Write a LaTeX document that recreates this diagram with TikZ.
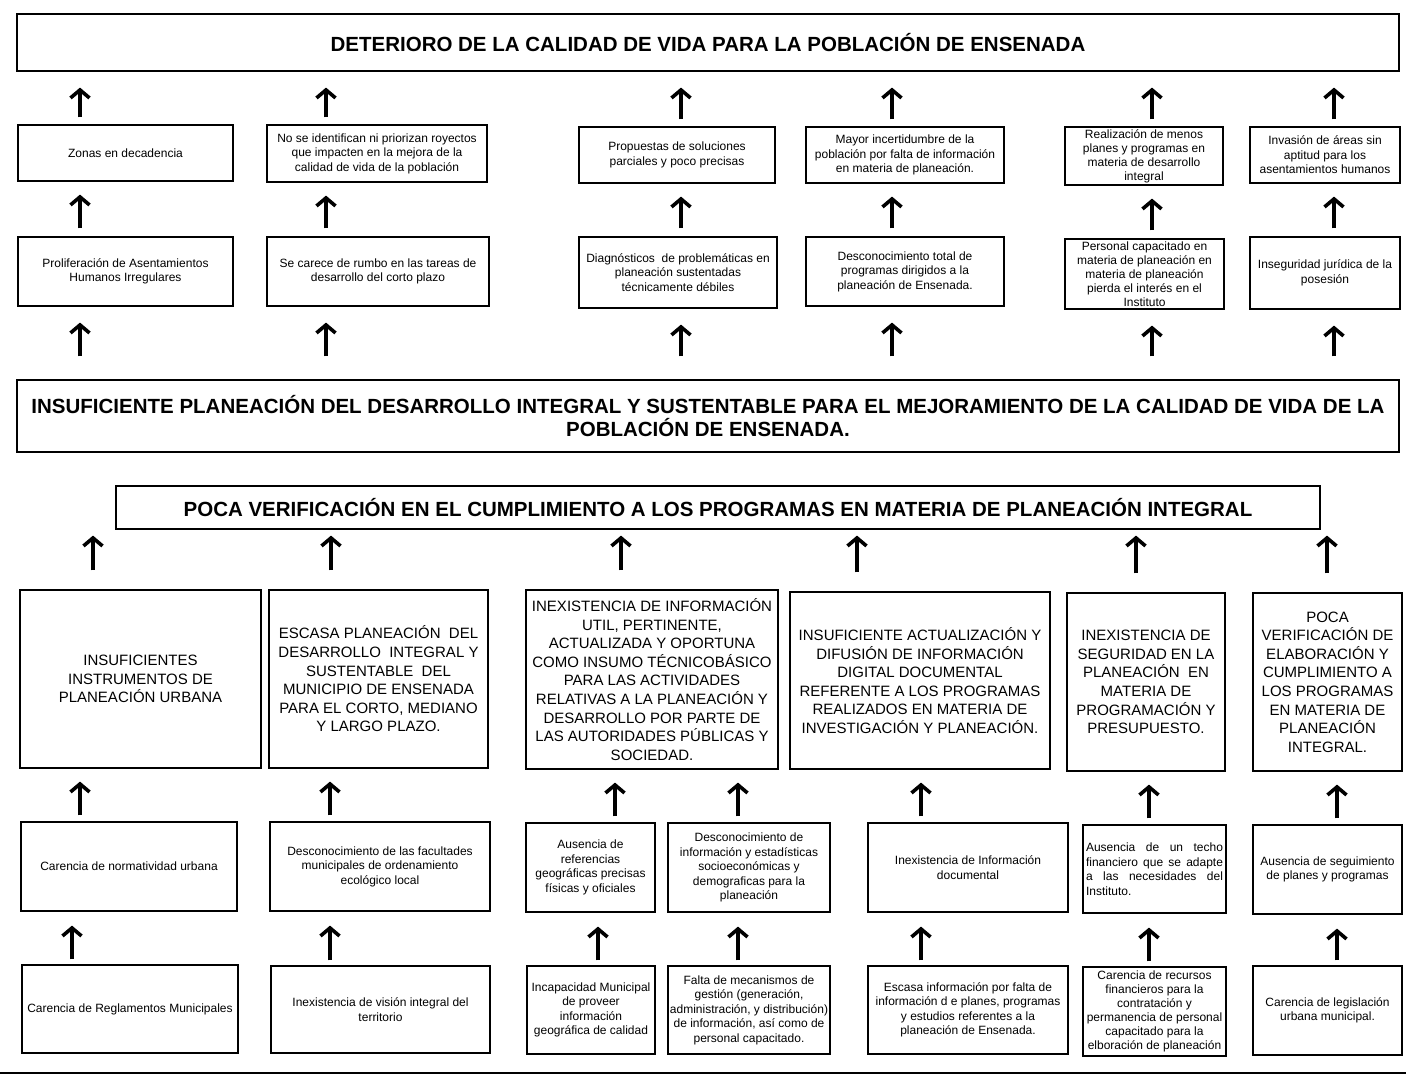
\documentclass[tikz,border=0pt]{standalone}
\usepackage{fontspec}
\setmainfont{Liberation Sans}
\usetikzlibrary{arrows.meta}
\newcommand\fsm{\fontsize{12}{14.5}\selectfont}
\newcommand\fsx{\fontsize{12}{14}\selectfont}
\newcommand\fbg{\fontsize{15}{18.6}\selectfont}
\newcommand\fhd{\fontsize{20.5}{23}\selectfont\bfseries}
\begin{document}
\begin{tikzpicture}[x=1pt,y=-1pt,
  bx/.style={draw, line width=1.2pt, inner sep=1pt, align=center, font=\fsm},
  bxs/.style={bx, font=\fsx},
  big/.style={bx, font=\fbg},
  hd/.style={bx, font=\fhd},
  arr/.style={line width=3.6pt, -{Straight Barb[length=8pt,width=19pt]}}]
\useasboundingbox (0,0) rectangle (1406,1078);
% titles
\node[hd, minimum width=1382pt, minimum height=57pt] (T) at (708,42.5) {DETERIORO DE LA CALIDAD DE VIDA PARA LA POBLACIÓN DE ENSENADA};
\node[hd, minimum width=1382pt, minimum height=72pt] (M) at (708,416) {INSUFICIENTE PLANEACIÓN DEL DESARROLLO INTEGRAL Y SUSTENTABLE PARA EL MEJORAMIENTO DE LA CALIDAD DE VIDA DE LA\\POBLACIÓN DE ENSENADA.};
\node[hd, minimum width=1204pt, minimum height=43pt] (P) at (718,507.5) {POCA VERIFICACIÓN EN EL CUMPLIMIENTO A LOS PROGRAMAS EN MATERIA DE PLANEACIÓN INTEGRAL};
% row A
\node[bx, minimum width=215pt, minimum height=56pt] (A1) at (125.5,153) {Zonas en decadencia};
\node[bx, minimum width=220pt, minimum height=57pt] (A2) at (377,153.5) {No se identifican ni priorizan royectos\\que impacten en la mejora de la\\calidad de vida de la población};
\node[bx, minimum width=196pt, minimum height=56pt] (A3) at (677,155) {Propuestas de soluciones\\parciales y poco precisas};
\node[bx, minimum width=198pt, minimum height=56pt] (A4) at (905,155) {Mayor incertidumbre de la\\población por falta de información\\en materia de planeación.};
\node[bxs, minimum width=158pt, minimum height=58pt] (A5) at (1144,156) {Realización de menos\\planes y programas en\\materia de desarrollo\\integral};
\node[bx, minimum width=150pt, minimum height=56pt] (A6) at (1325,155) {Invasión de áreas sin\\aptitud para los\\asentamientos humanos};
% row B
\node[bx, minimum width=215pt, minimum height=69pt] (B1) at (125.5,271.5) {Proliferación de Asentamientos\\Humanos Irregulares};
\node[bx, minimum width=222pt, minimum height=69pt] (B2) at (378,271.5) {Se carece de rumbo en las tareas de\\desarrollo del corto plazo};
\node[bx, minimum width=198pt, minimum height=71pt] (B3) at (678,272.5) {Diagnósticos\ \ de problemáticas en\\planeación sustentadas\\técnicamente débiles};
\node[bx, minimum width=198pt, minimum height=69pt] (B4) at (905,271.5) {Desconocimiento total de\\programas dirigidos a la\\planeación de Ensenada.};
\node[bxs, minimum width=159pt, minimum height=70pt, inner sep=0pt] (B5) at (1144.5,274) {Personal capacitado en\\materia de planeación en\\materia de planeación\\pierda el interés en el\\Instituto};
\node[bx, minimum width=150pt, minimum height=72pt] (B6) at (1325,273) {Inseguridad jurídica de la\\posesión};
% row C
\node[big, minimum width=241pt, minimum height=178pt] (C1) at (140.5,679) {INSUFICIENTES\\INSTRUMENTOS DE\\PLANEACIÓN URBANA};
\node[big, minimum width=219pt, minimum height=178pt] (C2) at (378.5,679) {ESCASA PLANEACIÓN\ \ DEL\\DESARROLLO\ \ INTEGRAL Y\\SUSTENTABLE\ \ DEL\\MUNICIPIO DE ENSENADA\\PARA EL CORTO, MEDIANO\\Y LARGO PLAZO.};
\node[big, minimum width=252pt, minimum height=179pt] (C3) at (652,679.5) {INEXISTENCIA DE INFORMACIÓN\\UTIL, PERTINENTE,\\ACTUALIZADA Y OPORTUNA\\COMO INSUMO TÉCNICOBÁSICO\\PARA LAS ACTIVIDADES\\RELATIVAS A LA PLANEACIÓN Y\\DESARROLLO POR PARTE DE\\LAS AUTORIDADES PÚBLICAS Y\\SOCIEDAD.};
\node[big, minimum width=260pt, minimum height=177pt] (C4) at (920,680.5) {INSUFICIENTE ACTUALIZACIÓN Y\\DIFUSIÓN DE INFORMACIÓN\\DIGITAL DOCUMENTAL\\REFERENTE A LOS PROGRAMAS\\REALIZADOS EN MATERIA DE\\INVESTIGACIÓN Y PLANEACIÓN.};
\node[big, minimum width=158pt, minimum height=178pt] (C5) at (1146,682) {INEXISTENCIA DE\\SEGURIDAD EN LA\\PLANEACIÓN\ \ EN\\MATERIA DE\\PROGRAMACIÓN Y\\PRESUPUESTO.};
\node[big, minimum width=149pt, minimum height=178pt] (C6) at (1327.5,682) {POCA\\VERIFICACIÓN DE\\ELABORACIÓN Y\\CUMPLIMIENTO A\\LOS PROGRAMAS\\EN MATERIA DE\\PLANEACIÓN\\INTEGRAL.};
% row D
\node[bx, minimum width=216pt, minimum height=89pt] (D1) at (129,866.5) {Carencia de normatividad urbana};
\node[bx, minimum width=220pt, minimum height=89pt] (D2) at (380,866.5) {Desconocimiento de las facultades\\municipales de ordenamiento\\ecológico local};
\node[bx, minimum width=129pt, minimum height=89pt] (D3) at (590.5,867.5) {Ausencia de\\referencias\\geográficas precisas\\físicas y oficiales};
\node[bx, minimum width=162pt, minimum height=89pt] (D4) at (749,867.5) {Desconocimiento de\\información y estadísticas\\socioeconómicas y\\demograficas para la\\planeación};
\node[bx, minimum width=200pt, minimum height=89pt] (D5) at (968,867.5) {Inexistencia de Información\\documental};
\node[bx, minimum width=143pt, minimum height=88pt, align=left] (D6) at (1154.5,869) {\makebox[137pt][s]{Ausencia de un techo}\\\makebox[137pt][s]{financiero que se adapte}\\\makebox[137pt][s]{a las necesidades del}\\\makebox[137pt][l]{Instituto.}};
\node[bx, minimum width=149pt, minimum height=89pt] (D7) at (1327.5,869.5) {Ausencia de seguimiento\\de planes y programas};
% row E
\node[bx, minimum width=216pt, minimum height=88pt] (E1) at (130,1009) {Carencia de Reglamentos Municipales};
\node[bx, minimum width=219pt, minimum height=87pt] (E2) at (380.5,1009.5) {Inexistencia de visión integral del\\territorio};
\node[bx, minimum width=128pt, minimum height=88pt] (E3) at (591,1010) {Incapacidad Municipal\\de proveer\\información\\geográfica de calidad};
\node[bx, minimum width=162pt, minimum height=88pt] (E4) at (749,1010) {Falta de mecanismos de\\gestión (generación,\\administración, y distribución)\\de información, así como de\\personal capacitado.};
\node[bx, minimum width=200pt, minimum height=88pt] (E5) at (968,1010) {Escasa información por falta de\\información d e planes, programas\\y estudios referentes a la\\planeación de Ensenada.};
\node[bxs, minimum width=143pt, minimum height=89pt, inner sep=0pt] (E6) at (1154.5,1011.5) {Carencia de recursos\\financieros para la\\contratación y\\permanencia de personal\\capacitado para la\\elboración de planeación};
\node[bx, minimum width=149pt, minimum height=89pt] (E7) at (1327.5,1010.5) {Carencia de legislación\\urbana municipal.};
% arrows
\foreach \n/\x in {A1/80,A2/326,A3/681,A4/892,A5/1152,A6/1334}
  \draw[arr, shorten <=7pt, shorten >=16pt] (\n.north -| \x,0) -- (T.south -| \x,0);
\foreach \n/\m/\x in {B1/A1/80,B2/A2/326,B3/A3/681,B4/A4/892,B5/A5/1152,B6/A6/1334}
  \draw[arr, shorten <=8pt, shorten >=13pt] (\n.north -| \x,0) -- (\m.south -| \x,0);
\foreach \m/\x in {B1/80,B2/326,B3/681,B4/892,B5/1152,B6/1334}
  \draw[arr, shorten <=23pt, shorten >=16pt] (M.north -| \x,0) -- (\m.south -| \x,0);
\foreach \n/\x in {C1/93,C2/331,C3/621,C4/857,C5/1136,C6/1327}
  \draw[arr, shorten <=19pt, shorten >=6pt] (\n.north -| \x,0) -- (P.south -| \x,0);
\foreach \n/\m/\x in {D1/C1/80,D2/C2/330,D3/C3/615,D4/C3/738,D5/C4/921,D6/C5/1149,D7/C6/1337}
  \draw[arr, shorten <=6pt, shorten >=13pt] (\n.north -| \x,0) -- (\m.south -| \x,0);
\foreach \n/\m/\x in {E1/D1/72,E2/D2/330,E3/D3/598,E4/D4/738,E5/D5/921,E6/D6/1149,E7/D7/1337}
  \draw[arr, shorten <=5pt, shorten >=14pt] (\n.north -| \x,0) -- (\m.south -| \x,0);
% bottom rule
\coordinate (L1) at (0,1073);
\coordinate (L2) at (1406,1073);
\draw[line width=1.2pt] (L1) -- (L2);
\end{tikzpicture}
\end{document}
